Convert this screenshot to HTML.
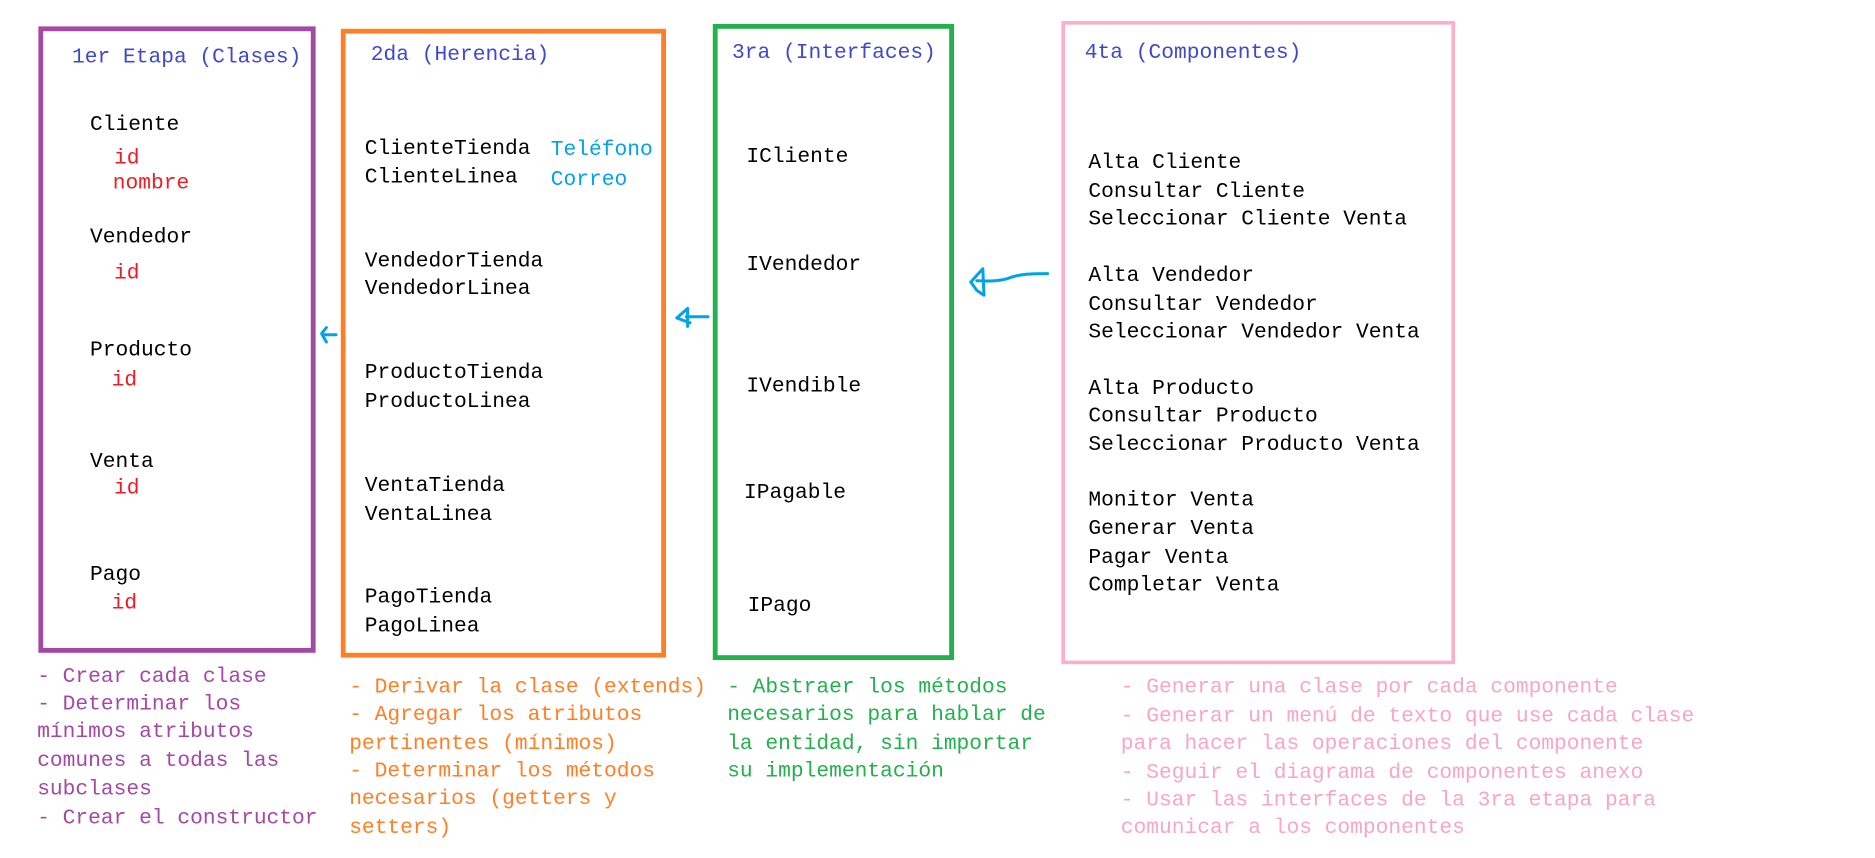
<!DOCTYPE html>
<html><head><meta charset="utf-8"><style>
html,body{margin:0;padding:0;background:#fff;width:1875px;height:858px;overflow:hidden}
svg{display:block}
text{font-family:"Liberation Mono",monospace;font-size:17.7px;dominant-baseline:central}
.t{fill:#3f48cc}.k{fill:#000}.r{fill:#ed1c24}.c{fill:#00a2e8}
.p{fill:#a349a4}.o{fill:#ff7f27}.g{fill:#22b14c}.pk{fill:#f7a6c4}
</style></head><body>
<svg width="1875" height="858" viewBox="0 0 1562.5 715" xmlns="http://www.w3.org/2000/svg">
<rect x="34" y="24" width="227" height="518" fill="none" stroke="#a349a4" stroke-width="4"/>
<rect x="286" y="26" width="267" height="520" fill="none" stroke="#ff7f27" stroke-width="4"/>
<rect x="596" y="22" width="197" height="526" fill="none" stroke="#22b14c" stroke-width="4"/>
<rect x="886" y="19" width="325" height="533" fill="none" stroke="#ffaec9" stroke-width="3"/>

<g fill="none" stroke="#00a2e8" stroke-width="2.5" stroke-linecap="round" stroke-linejoin="round">
<path d="M280 279 L270 279 M272 273 L268 278 L272 285"/>
<path d="M590 264 L572 264 M573 257 L564 265 L575 269 M573 257 L573 272"/>
<path d="M873 228 C860 228 850 228 840 232 C830 235 820 234 814 234 M819 224 L809 235 L814 242 L820 246 L819 224"/>
</g>

<text x="60" y="48" class="t">1er Etapa (Clases)</text>
<text x="75" y="104" class="k">Cliente</text>
<text x="95" y="132" class="r">id</text>
<text x="94" y="153" class="r">nombre</text>
<text x="75" y="198" class="k">Vendedor</text>
<text x="95" y="228" class="r">id</text>
<text x="75" y="292" class="k">Producto</text>
<text x="93" y="317" class="r">id</text>
<text x="75" y="385" class="k">Venta</text>
<text x="95" y="407" class="r">id</text>
<text x="75" y="479" class="k">Pago</text>
<text x="93" y="503" class="r">id</text>

<text x="309" y="46" class="t">2da (Herencia)</text>
<text x="304" y="124" class="k">ClienteTienda</text>
<text x="304" y="148" class="k">ClienteLinea</text>
<text x="459" y="125" class="c">Teléfono</text>
<text x="459" y="150" class="c">Correo</text>
<text x="304" y="218" class="k">VendedorTienda</text>
<text x="304" y="241" class="k">VendedorLinea</text>
<text x="304" y="311" class="k">ProductoTienda</text>
<text x="304" y="335" class="k">ProductoLinea</text>
<text x="304" y="405" class="k">VentaTienda</text>
<text x="304" y="429" class="k">VentaLinea</text>
<text x="304" y="498" class="k">PagoTienda</text>
<text x="304" y="522" class="k">PagoLinea</text>

<text x="610" y="44" class="t">3ra (Interfaces)</text>
<text x="622" y="131" class="k">ICliente</text>
<text x="622" y="221" class="k">IVendedor</text>
<text x="622" y="322" class="k">IVendible</text>
<text x="620" y="411" class="k">IPagable</text>
<text x="623" y="505" class="k">IPago</text>

<text x="904" y="44" class="t">4ta (Componentes)</text>
<g class="k">
<text x="907" y="136">Alta Cliente</text>
<text x="907" y="160">Consultar Cliente</text>
<text x="907" y="183">Seleccionar Cliente Venta</text>
<text x="907" y="230">Alta Vendedor</text>
<text x="907" y="254">Consultar Vendedor</text>
<text x="907" y="277">Seleccionar Vendedor Venta</text>
<text x="907" y="324">Alta Producto</text>
<text x="907" y="347">Consultar Producto</text>
<text x="907" y="371">Seleccionar Producto Venta</text>
<text x="907" y="417">Monitor Venta</text>
<text x="907" y="441">Generar Venta</text>
<text x="907" y="465">Pagar Venta</text>
<text x="907" y="488">Completar Venta</text>
</g>

<g class="p">
<text x="31" y="564">- Crear cada clase</text>
<text x="31" y="587">- Determinar los</text>
<text x="31" y="610">mínimos atributos</text>
<text x="31" y="634">comunes a todas las</text>
<text x="31" y="658">subclases</text>
<text x="31" y="682">- Crear el constructor</text>
</g>
<g class="o">
<text x="291" y="573">- Derivar la clase (extends)</text>
<text x="291" y="596">- Agregar los atributos</text>
<text x="291" y="620">pertinentes (mínimos)</text>
<text x="291" y="643">- Determinar los métodos</text>
<text x="291" y="666">necesarios (getters y</text>
<text x="291" y="690">setters)</text>
</g>
<g class="g">
<text x="606" y="573">- Abstraer los métodos</text>
<text x="606" y="596">necesarios para hablar de</text>
<text x="606" y="620">la entidad, sin importar</text>
<text x="606" y="643">su implementación</text>
</g>
<g class="pk">
<text x="934" y="573">- Generar una clase por cada componente</text>
<text x="934" y="597">- Generar un menú de texto que use cada clase</text>
<text x="934" y="620">para hacer las operaciones del componente</text>
<text x="934" y="644">- Seguir el diagrama de componentes anexo</text>
<text x="934" y="667">- Usar las interfaces de la 3ra etapa para</text>
<text x="934" y="690">comunicar a los componentes</text>
</g>
</svg>
</body></html>
